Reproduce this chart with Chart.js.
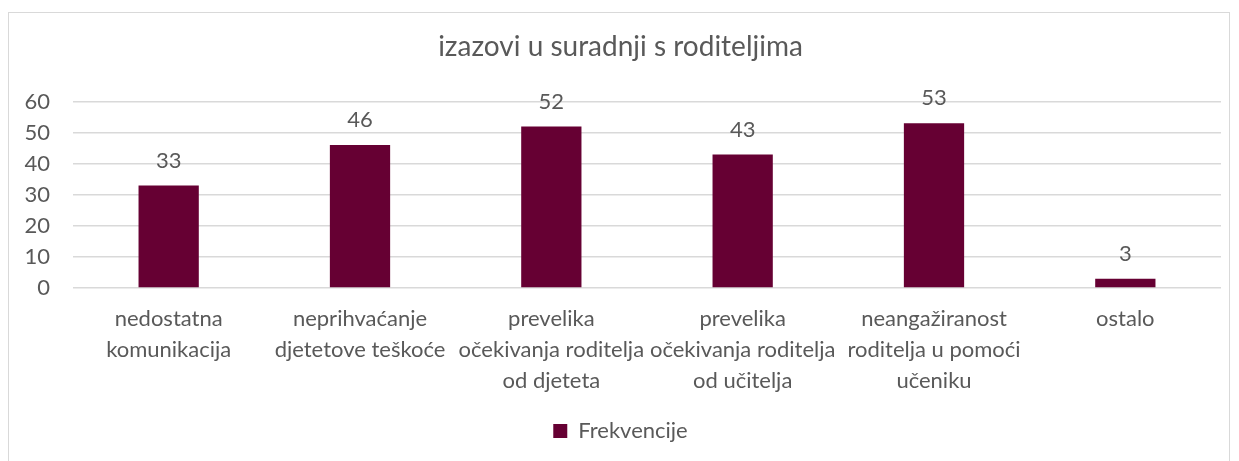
<!DOCTYPE html>
<html>
<head>
<meta charset="utf-8">
<script src="https://cdn.jsdelivr.net/npm/chart.js@4"></script>
<style>
  html, body { margin:0; padding:0; background:#fff; }
  #wrap { position:relative; width:1239px; height:461px; overflow:hidden; }
  #frame { position:absolute; left:8px; top:12px; width:1222px; height:470px; border:1px solid #d9d9d9; box-sizing:border-box; }
  canvas { position:absolute; left:0; top:0; }
</style>
</head>
<body>
<div id="wrap">
  <div id="frame"></div>
  <canvas id="chart" width="1239" height="461"></canvas>
</div>
<script>
const title = 'izazovi u suradnji s roditeljima';
const categories = [
  ['nedostatna', 'komunikacija'],
  ['neprihvaćanje', 'djetetove teškoće'],
  ['prevelika', 'očekivanja roditelja', 'od djeteta'],
  ['prevelika', 'očekivanja roditelja', 'od učitelja'],
  ['neangažiranost', 'roditelja u pomoći', 'učeniku'],
  ['ostalo']
];
const seriesName = 'Frekvencije';
const values = [33, 46, 52, 43, 53, 3];
const yTicks = [0, 10, 20, 30, 40, 50, 60];

const FONT = 'Lato, "Open Sans", sans-serif';
const TXT = '#595959';
const BAR = '#660033';
const GRID = '#d9d9d9';

// подписи значений над столбцами
const valueLabels = {
  id: 'valueLabels',
  afterDatasetsDraw(chart){
    const ctx = chart.ctx;
    ctx.save();
    ctx.font = '22px ' + FONT;
    ctx.fillStyle = TXT;
    ctx.textAlign = 'center';
    ctx.textBaseline = 'middle';
    chart.getDatasetMeta(0).data.forEach((bar, i) => {
      ctx.fillText(String(values[i]), bar.x, bar.y - 25);
    });
    ctx.restore();
  }
};

new Chart(document.getElementById('chart'), {
  type: 'bar',
  data: {
    labels: categories,
    datasets: [{ label: seriesName, data: values, backgroundColor: BAR, borderWidth: 0,
      barPercentage: 0.63, categoryPercentage: 0.5 }]
  },
  options: {
    responsive: false,
    animation: false,
    layout: { padding: { left: 20, right: 18, top: 0, bottom: 9 } },
    plugins: {
      title: { display: true, text: title, color: TXT, font: { family: FONT, size: 28, weight: 'normal' },
        padding: { top: 30, bottom: 38 } },
      legend: { position: 'bottom', labels: { color: TXT, font: { family: FONT, size: 22 },
        boxWidth: 14, boxHeight: 14, padding: 10 } },
      tooltip: { enabled: false }
    },
    scales: {
      x: {
        grid: { display: false },
        border: { display: false },
        ticks: { color: TXT, font: { family: FONT, size: 22, lineHeight: 1.39 }, maxRotation: 0, autoSkip: false, padding: 8 },
        afterFit(s){ s.height = 122; }
      },
      y: {
        min: 0, max: 60,
        afterBuildTicks(s){ s.ticks = yTicks.map(v => ({ value: v })); },
        grid: { color: GRID, lineWidth: 1.5, drawTicks: false },
        border: { display: false },
        ticks: { color: TXT, font: { family: FONT, size: 22 }, padding: 23 },
        afterFit(s){ s.width = 53; }
      }
    }
  },
  plugins: [valueLabels]
});
</script>
</body>
</html>
